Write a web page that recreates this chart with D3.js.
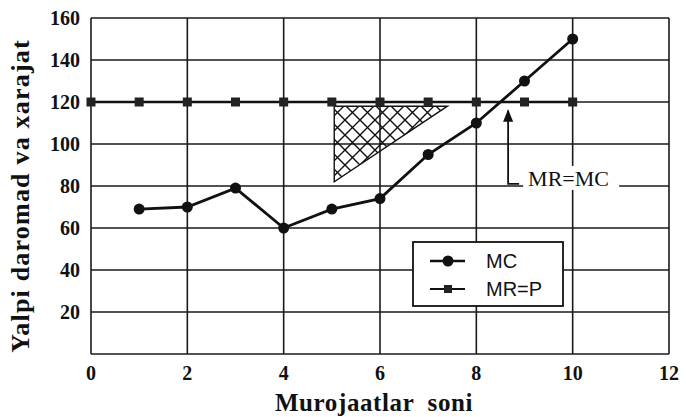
<!DOCTYPE html>
<html lang="uz">
<head>
<meta charset="UTF-8">
<title>MC va MR=P</title>
<script src="https://d3js.org/d3.v7.min.js"></script>
<style>
    body { margin: 0; background: #fff; }
    svg { display: block; }
    .tick-label { font-family: 'Liberation Serif', serif; font-weight: bold; font-size: 20px; fill: #111; }
    .axis-title { font-family: 'Liberation Serif', serif; font-weight: bold; fill: #111; white-space: pre; }
    .legend-text { font-family: 'Liberation Sans', sans-serif; font-size: 20px; fill: #111; }
</style>
</head>
<body>
<svg width="686" height="417"></svg>
<script>
    // data
    const mcX = [1, 2, 3, 4, 5, 6, 7, 8, 9, 10];
    const mcY = [69, 70, 79, 60, 69, 74, 95, 110, 130, 150];
    const mrX = [0, 1, 2, 3, 4, 5, 6, 7, 8, 9, 10];
    const mrY = [120, 120, 120, 120, 120, 120, 120, 120, 120, 120, 120];
    const xTicks = [0, 2, 4, 6, 8, 10, 12];
    const yTicks = [20, 40, 60, 80, 100, 120, 140, 160];
    const hatchArea = [[5.05, 118], [7.4, 118], [5.05, 82]];
    const eqPoint = {x: 8.66, yFrom: 81, yTo: 116, label: "MR=MC"};

    const svg = d3.select("svg");
    const x = d3.scaleLinear().domain([0, 12]).range([91, 669]);
    const y = d3.scaleLinear().domain([0, 160]).range([354, 18]);

    // crosshatch pattern
    const defs = svg.append("defs");
    const pat = defs.append("pattern")
        .attr("id", "hatch")
        .attr("patternUnits", "userSpaceOnUse")
        .attr("width", 15).attr("height", 15);
    pat.append("path").attr("d", "M0,0 L15,15 M15,0 L0,15")
        .attr("stroke", "#111").attr("stroke-width", 1.4);
    defs.append("marker")
        .attr("id", "arrow").attr("viewBox", "0 0 10 10")
        .attr("refX", 9).attr("refY", 5)
        .attr("markerWidth", 7).attr("markerHeight", 9)
        .attr("orient", "auto")
        .append("path").attr("d", "M0,1 L10,5 L0,9 Z").attr("fill", "#111");

    // grid
    const grid = svg.append("g").attr("stroke", "#1a1a1a").attr("stroke-width", 1.6);
    grid.selectAll(".gy").data([0].concat(yTicks)).enter().append("line")
        .attr("x1", x(0)).attr("x2", x(12))
        .attr("y1", d => y(d)).attr("y2", d => y(d));
    grid.selectAll(".gx").data(xTicks).enter().append("line")
        .attr("x1", d => x(d)).attr("x2", d => x(d))
        .attr("y1", y(0)).attr("y2", y(160));

    // tick labels
    svg.append("g").selectAll("text").data(yTicks).enter().append("text")
        .attr("class", "tick-label")
        .attr("x", x(0) - 11).attr("y", d => y(d) + 7)
        .attr("text-anchor", "end").text(d => d);
    svg.append("g").selectAll("text").data(xTicks).enter().append("text")
        .attr("class", "tick-label")
        .attr("x", d => x(d)).attr("y", y(0) + 26)
        .attr("text-anchor", "middle").text(d => d);

    // axis titles
    svg.append("text").attr("class", "axis-title")
        .style("font-size", "25px").style("letter-spacing", "0.6px")
        .attr("x", 374).attr("y", 411).attr("text-anchor", "middle")
        .text("Murojaatlar  soni");
    svg.append("text").attr("class", "axis-title")
        .style("font-size", "26px").style("letter-spacing", "1.2px")
        .attr("transform", "translate(29,196) rotate(-90)")
        .attr("text-anchor", "middle")
        .text("Yalpi daromad va xarajat");

    // hatched area
    svg.append("path")
        .datum(hatchArea)
        .attr("d", d3.line().x(d => x(d[0])).y(d => y(d[1])).curve(d3.curveLinearClosed))
        .attr("fill", "url(#hatch)")
        .attr("stroke", "#111").attr("stroke-width", 1.4);

    // MR=P line
    const mr = mrX.map((v, i) => ({x: v, y: mrY[i]}));
    const line = d3.line().x(d => x(d.x)).y(d => y(d.y));
    svg.append("path").datum(mr).attr("d", line)
        .attr("fill", "none").attr("stroke", "#111").attr("stroke-width", 2.4);
    svg.selectAll(".sq").data(mr).enter().append("rect")
        .attr("x", d => x(d.x) - 4.5).attr("y", d => y(d.y) - 4.5)
        .attr("width", 9).attr("height", 9).attr("fill", "#222");

    // MC line
    const mc = mcX.map((v, i) => ({x: v, y: mcY[i]}));
    svg.append("path").datum(mc).attr("d", line)
        .attr("fill", "none").attr("stroke", "#111").attr("stroke-width", 2.8);
    svg.selectAll(".dot").data(mc).enter().append("circle")
        .attr("cx", d => x(d.x)).attr("cy", d => y(d.y)).attr("r", 5.5).attr("fill", "#111");

    // MR=MC annotation
    const ax = x(eqPoint.x), ay = y(eqPoint.yFrom);
    svg.append("rect").attr("x", ax + 15).attr("y", ay - 18)
        .attr("width", 96).attr("height", 24).attr("fill", "#fff");
    svg.append("path")
        .attr("d", `M${ax + 11},${ay} L${ax},${ay} L${ax},${y(eqPoint.yTo)}`)
        .attr("fill", "none").attr("stroke", "#111").attr("stroke-width", 1.8)
        .attr("marker-end", "url(#arrow)");
    svg.append("text").attr("class", "tick-label")
        .style("font-weight", "normal").style("font-size", "22px")
        .attr("x", ax + 20).attr("y", ay + 2).text(eqPoint.label);

    // legend
    const lg = svg.append("g").attr("transform", "translate(413,242)");
    lg.append("rect").attr("width", 150).attr("height", 64)
        .attr("fill", "#fff").attr("stroke", "#111").attr("stroke-width", 1.8);
    const items = [{name: "MC", shape: "circle"}, {name: "MR=P", shape: "square"}];
    items.forEach((it, i) => {
        const cy = 19 + i * 28;
        lg.append("line").attr("x1", 17).attr("x2", 52).attr("y1", cy).attr("y2", cy)
            .attr("stroke", "#111").attr("stroke-width", it.shape === "circle" ? 2.5 : 2);
        if (it.shape === "circle") {
            lg.append("circle").attr("cx", 35).attr("cy", cy).attr("r", 5.5).attr("fill", "#111");
        } else {
            lg.append("rect").attr("x", 31).attr("y", cy - 4).attr("width", 8).attr("height", 8).attr("fill", "#222");
        }
        lg.append("text").attr("class", "legend-text")
            .attr("x", 73).attr("y", cy + 7).text(it.name);
    });
</script>
</body>
</html>
